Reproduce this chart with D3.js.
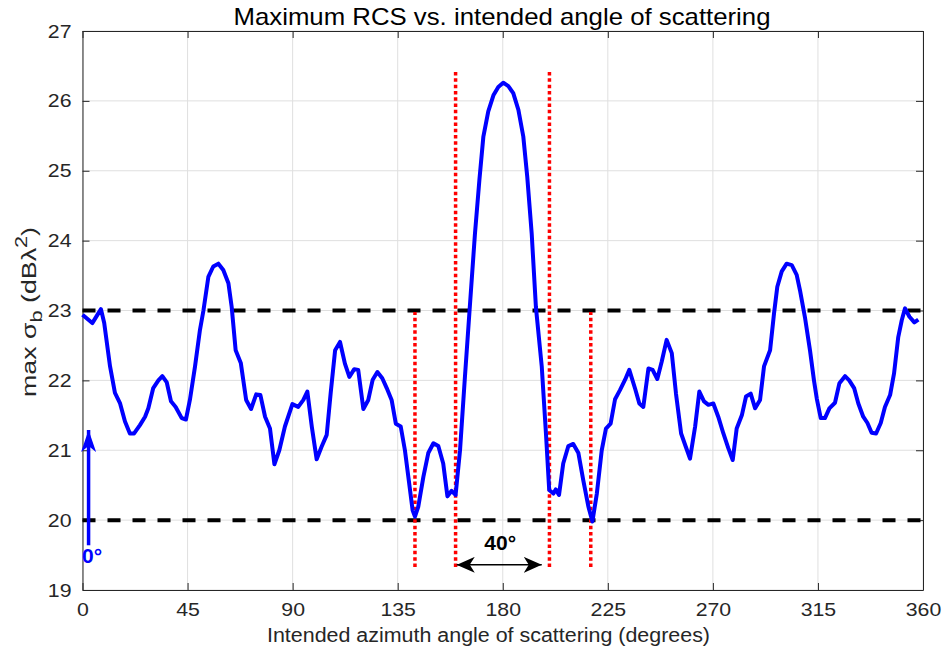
<!DOCTYPE html>
<html>
<head>
<meta charset="utf-8">
<script src="https://cdn.jsdelivr.net/npm/d3@7"></script>
<style>
  body { margin: 0; background: #fff; }
  svg { display: block; font-family: "Liberation Sans", Arial, sans-serif; }
</style>
</head>
<body>
<svg id="chart" width="943" height="654"></svg>
<script>
// ---- data ----
const angles = [0,4.2,7.9,9.3,11.8,13.9,16.1,18.2,20.3,22.1,24.6,26.8,28.2,30.3,32.5,34.2,36.1,37.9,39.9,42.5,44.3,46.0,48.2,50.3,51.8,53.9,56.0,58.2,60.3,62.5,63.9,65.6,67.8,70.1,72.2,74.4,76.2,78.2,80.3,82.2,84.3,86.7,89.9,92.4,94.6,96.3,98.2,100.3,102.4,104.6,106.3,108.2,110.3,112.4,114.3,116.4,118.1,120.3,122.4,124.3,126.3,128.4,130.3,132.4,134.2,136.3,138.1,139.9,141.4,142.4,143.8,146.0,148.1,150.3,152.4,154.5,156.3,158.1,159.8,161.7,163.8,165.8,168.1,170.0,171.7,173.8,176.0,178.1,180.2,182.4,184.5,186.7,188.8,190.5,192.4,194.2,196.7,198.5,199.9,201.7,202.7,204.1,205.9,208.1,210.2,212.4,214.5,216.7,218.4,220.3,222.4,224.2,226.2,228.1,230.2,232.4,234.2,236.7,238.5,240.2,242.4,244.2,246.2,248.1,250.2,252.4,254.2,256.4,258.4,260.2,262.4,264.2,266.2,268.1,270.2,272.3,274.5,276.6,278.5,280.2,282.4,284.2,286.2,288.1,290.2,291.9,294.5,296.2,297.6,299.5,301.6,303.8,305.9,307.3,309.5,311.6,313.3,314.5,316.2,318.0,319.9,322.3,324.2,326.6,328.4,330.5,332.3,334.4,336.2,338.0,339.9,341.9,343.7,345.9,347.6,349.4,350.9,352.3,354.2,356.3,358.0];
const maxRcs = [22.94,22.82,23.02,22.82,22.2,21.82,21.67,21.41,21.24,21.24,21.36,21.48,21.6,21.89,22.0,22.06,21.97,21.7,21.62,21.46,21.44,21.72,22.2,22.72,23.0,23.48,23.63,23.67,23.58,23.39,23.05,22.43,22.25,21.72,21.59,21.8,21.79,21.48,21.31,20.80,21.0,21.34,21.66,21.62,21.72,21.84,21.34,20.87,21.05,21.22,21.82,22.43,22.55,22.24,22.05,22.16,22.15,21.59,21.72,22.01,22.12,22.03,21.89,21.72,21.38,21.34,21.0,20.53,20.14,20.05,20.19,20.62,20.96,21.10,21.06,20.81,20.34,20.42,20.36,21.0,22.05,23.01,24.10,24.87,25.49,25.85,26.08,26.20,26.26,26.21,26.11,25.87,25.49,24.91,24.10,23.05,22.2,21.24,20.43,20.38,20.44,20.36,20.81,21.06,21.09,20.96,20.57,20.19,19.98,20.38,21.0,21.31,21.38,21.73,21.86,22.01,22.15,21.88,21.67,21.62,22.17,22.15,22.02,22.27,22.58,22.39,21.81,21.24,21.05,20.88,21.34,21.84,21.70,21.65,21.67,21.48,21.24,21.03,20.86,21.31,21.50,21.77,21.81,21.60,21.72,22.2,22.43,22.96,23.34,23.56,23.67,23.65,23.51,23.29,22.89,22.43,22.0,21.74,21.46,21.46,21.60,21.68,21.96,22.06,22.0,21.89,21.67,21.48,21.39,21.25,21.24,21.39,21.62,21.79,22.1,22.62,22.86,23.03,22.91,22.83,22.87];

const xTicks = [0,45,90,135,180,225,270,315,360];
const yTicks = [19,20,21,22,23,24,25,26,27];
const thresholdLevels = [23, 20];
// red dotted markers: angle, top level; common bottom level
const markerAngles = [159.8, 200.0, 142.4, 217.7];
const markerTops = [26.42, 26.44, 22.98, 22.98];
const markerBottom = 19.33;
const spanArrow = [160.3, 196.7];
const spanArrowLevel = 19.36;
const spanLabel = "40°";
const zeroArrow = [2.6, 19.64, 21.29];
const zeroLabel = "0°";

const titleText = "Maximum RCS vs. intended angle of scattering";
const xLabelText = "Intended azimuth angle of scattering (degrees)";

// ---- layout ----
const svg = d3.select("#chart");
const L = 82.5, R = 923, T = 31, B = 590;
const x = d3.scaleLinear().domain([0, 360]).range([L, R]);
const y = d3.scaleLinear().domain([19, 27]).range([B, T]);
const axisColor = "#262626";
const WIDEN = 1.12;

function widen(sel, factor) {
  sel.each(function () {
    const w = this.getComputedTextLength();
    d3.select(this).attr("textLength", w * factor).attr("lengthAdjust", "spacingAndGlyphs");
  });
}

// grid
const grid = svg.append("g");
grid.selectAll("line.gx").data(xTicks).join("line")
  .attr("x1", d => x(d)).attr("x2", d => x(d)).attr("y1", T).attr("y2", B)
  .attr("stroke", "#dfdfdf").attr("stroke-width", 1);
grid.selectAll("line.gy").data(yTicks).join("line")
  .attr("x1", L).attr("x2", R).attr("y1", d => y(d)).attr("y2", d => y(d))
  .attr("stroke", "#dfdfdf").attr("stroke-width", 1);

// axes
const tickLen = 7;
const xAxisB = d3.axisBottom(x).tickValues(xTicks).tickSizeInner(-tickLen).tickSizeOuter(0).tickPadding(13);
const xAxisT = d3.axisTop(x).tickValues(xTicks).tickSizeInner(-tickLen).tickSizeOuter(0).tickFormat("");
const yAxisL = d3.axisLeft(y).tickValues(yTicks).tickSizeInner(-tickLen).tickSizeOuter(0).tickPadding(11);
const yAxisR = d3.axisRight(y).tickValues(yTicks).tickSizeInner(-tickLen).tickSizeOuter(0).tickFormat("");

function styleAxis(g) {
  g.select(".domain").attr("stroke", axisColor).attr("stroke-width", 1);
  g.selectAll(".tick line").attr("stroke", axisColor);
  g.selectAll(".tick text").attr("fill", axisColor).attr("font-size", 19)
    .attr("font-family", "Liberation Sans, Arial, sans-serif");
}
const gxb = svg.append("g").attr("transform", `translate(0,${B})`).call(xAxisB).call(styleAxis);
svg.append("g").attr("transform", `translate(0,${T})`).call(xAxisT).call(styleAxis);
const gyl = svg.append("g").attr("transform", `translate(${L},0)`).call(yAxisL).call(styleAxis);
svg.append("g").attr("transform", `translate(${R},0)`).call(yAxisR).call(styleAxis);
widen(gxb.selectAll(".tick text"), WIDEN);
widen(gyl.selectAll(".tick text"), WIDEN);

// threshold dashed lines
svg.append("g").selectAll("line").data(thresholdLevels).join("line")
  .attr("x1", x(0)).attr("x2", x(360)).attr("y1", d => y(d)).attr("y2", d => y(d))
  .attr("stroke", "#000").attr("stroke-width", 4).attr("stroke-dasharray", "13,12");

// red dotted markers
svg.append("g").selectAll("line").data(markerAngles).join("line")
  .attr("x1", d => x(d)).attr("x2", d => x(d))
  .attr("y1", y(markerBottom)).attr("y2", (d, i) => y(markerTops[i]))
  .attr("stroke", "#ff0000").attr("stroke-width", 3.5).attr("stroke-dasharray", "3.5,2.8");

// main curve
const line = d3.line().x(d => x(d[0])).y(d => y(d[1]));
svg.append("path").datum(angles.map((a, i) => [a, maxRcs[i]]))
  .attr("d", line).attr("fill", "none").attr("stroke", "#0000ff")
  .attr("stroke-width", 4).attr("stroke-linejoin", "round");

// markers defs
const defs = svg.append("defs");
defs.append("marker").attr("id", "blackHead").attr("viewBox", "0 0 18 16")
  .attr("refX", 18).attr("refY", 8).attr("markerWidth", 18).attr("markerHeight", 16)
  .attr("markerUnits", "userSpaceOnUse").attr("orient", "auto-start-reverse")
  .append("path").attr("d", "M0,0 L18,8 L0,16 L5,8 Z").attr("fill", "#000");

// span arrow
svg.append("line")
  .attr("x1", x(spanArrow[0])).attr("x2", x(spanArrow[1]))
  .attr("y1", y(spanArrowLevel)).attr("y2", y(spanArrowLevel))
  .attr("stroke", "#000").attr("stroke-width", 1.5)
  .attr("marker-start", "url(#blackHead)").attr("marker-end", "url(#blackHead)");
const spanText = svg.append("text").attr("x", x((spanArrow[0] + spanArrow[1]) / 2) + 1).attr("y", 550)
  .attr("text-anchor", "middle").attr("font-size", 20).attr("font-weight", "bold")
  .attr("fill", "#000").text(spanLabel);
widen(spanText, 1.05);

// zero arrow
defs.append("marker").attr("id", "blueHead").attr("viewBox", "0 0 22 15")
  .attr("refX", 22).attr("refY", 7.5).attr("markerWidth", 22).attr("markerHeight", 15)
  .attr("markerUnits", "userSpaceOnUse").attr("orient", "auto")
  .append("path").attr("d", "M0,0 L22,7.5 L0,15 L6,7.5 Z").attr("fill", "#0000ff");
svg.append("line")
  .attr("x1", x(zeroArrow[0])).attr("x2", x(zeroArrow[0]))
  .attr("y1", y(zeroArrow[1])).attr("y2", y(zeroArrow[2]))
  .attr("stroke", "#0000ff").attr("stroke-width", 3.5)
  .attr("marker-end", "url(#blueHead)");
const zt = svg.append("text").attr("x", 82).attr("y", 563)
  .attr("font-size", 20).attr("font-weight", "bold").attr("fill", "#0000ff").text(zeroLabel);
widen(zt, 1.05);

// title
const tt = svg.append("text").attr("x", 502).attr("y", 25)
  .attr("text-anchor", "middle").attr("font-size", 24).attr("fill", "#000").text(titleText);
tt.attr("textLength", 537).attr("lengthAdjust", "spacingAndGlyphs");

// x label
const xl = svg.append("text").attr("x", 488.5).attr("y", 642)
  .attr("text-anchor", "middle").attr("font-size", 20).attr("fill", axisColor).text(xLabelText);
xl.attr("textLength", 443).attr("lengthAdjust", "spacingAndGlyphs");

// y label
const yl = svg.append("text").attr("transform", `translate(36,312) rotate(-90)`)
  .attr("text-anchor", "middle").attr("font-size", 21).attr("fill", axisColor);
yl.append("tspan").text("max σ");
yl.append("tspan").attr("font-size", 17).attr("dy", 6).text("b");
yl.append("tspan").attr("dy", -6).text(" (dBλ");
yl.append("tspan").attr("font-size", 17).attr("dy", -9).text("2");
yl.append("tspan").attr("dy", 9).text(")");
yl.attr("textLength", 170).attr("lengthAdjust", "spacingAndGlyphs");
</script>
</body>
</html>
